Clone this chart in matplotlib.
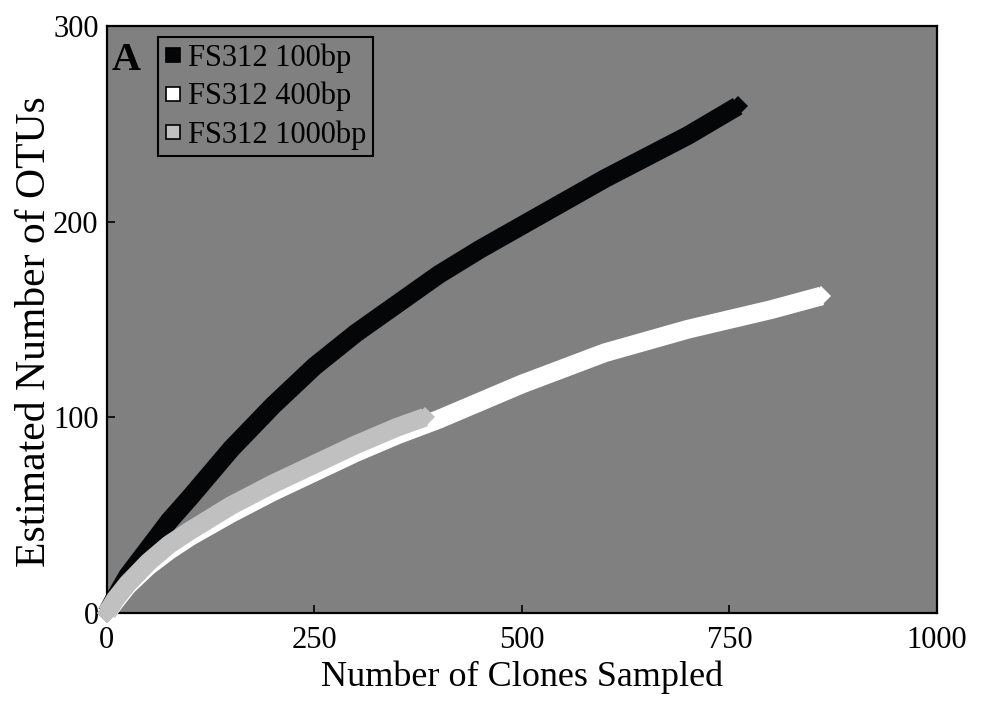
import matplotlib
matplotlib.use("Agg")
import matplotlib.pyplot as plt
from matplotlib.lines import Line2D

plt.rcParams['font.family'] = ['Liberation Serif', 'DejaVu Serif']

# Data
clones_100 = [0, 10, 25, 50, 75, 100, 150, 200, 250, 300, 350, 400, 450, 500,
              550, 600, 650, 700, 760]
otus_100 = [0, 8, 19, 33, 47, 59, 84, 106, 126, 143, 158, 173, 186, 198,
            210, 222, 233, 244, 259]

clones_400 = [0, 10, 25, 50, 75, 100, 150, 200, 250, 300, 350, 400, 450, 500,
              550, 600, 650, 700, 750, 800, 861]
otus_400 = [0, 6, 14, 24, 32, 39, 51, 62, 72, 82, 91, 99, 108, 117,
            125, 133, 139, 145, 150, 155, 162]

clones_1000 = [0, 10, 25, 50, 75, 100, 150, 200, 250, 300, 350, 383]
otus_1000 = [0, 7, 15, 26, 35, 42, 55, 66, 76, 86, 95, 100]

labels = ["FS312 100bp", "FS312 400bp", "FS312 1000bp"]
colors = ["#050608", "#ffffff", "#c0c0c0"]

x_ticks = [0, 250, 500, 750, 1000]
y_ticks = [0, 100, 200, 300]

fig = plt.figure(figsize=(9.81, 7.09), dpi=100)
ax = fig.add_axes([0.109, 0.1354, 0.846, 0.828])
ax.set_facecolor("#808080")

series = [(clones_100, otus_100), (clones_400, otus_400), (clones_1000, otus_1000)]
for (xs, ys), c in zip(series, colors):
    ax.plot(xs, ys, color=c, lw=13.5, solid_capstyle='butt', solid_joinstyle='round',
            marker='D', markersize=10.5, markevery=[0, len(xs) - 1],
            markerfacecolor=c, markeredgewidth=0, clip_on=False, zorder=3)

ax.set_xlim(0, 1000)
ax.set_ylim(0, 300)
ax.set_xticks(x_ticks)
ax.set_yticks(y_ticks)
ax.tick_params(axis='both', direction='in', length=6, width=1.2, labelsize=22, color='black')
ax.tick_params(axis='x', pad=9)
ax.tick_params(axis='y', pad=6)
for s in ax.spines.values():
    s.set_linewidth(1.6)
    s.set_color('black')

ax.set_xlabel("Number of Clones Sampled", fontsize=26, labelpad=4)
ax.set_ylabel("Estimated Number of OTUs", fontsize=30)
ax.yaxis.set_label_coords(-0.064, 0.479)

ax.text(0.006, 0.925, "A", transform=ax.transAxes, fontsize=29, fontweight='bold',
        ha='left', va='baseline', zorder=5)

handles = [Line2D([], [], linestyle='none', marker='s', markersize=10.5,
                  markerfacecolor=c, markeredgecolor='black', markeredgewidth=1.2)
           for c in colors]
leg = ax.legend(handles, labels, loc='upper left', bbox_to_anchor=(0.061, 0.981),
                borderaxespad=0, fontsize=22, frameon=True, fancybox=False,
                facecolor="#808080", edgecolor='black', framealpha=1,
                handlelength=0.6, handletextpad=0.2, borderpad=0.2,
                labelspacing=0.3)
leg.get_frame().set_linewidth(1.5)
leg.set_zorder(6)

fig.savefig("out.png", dpi=100)
